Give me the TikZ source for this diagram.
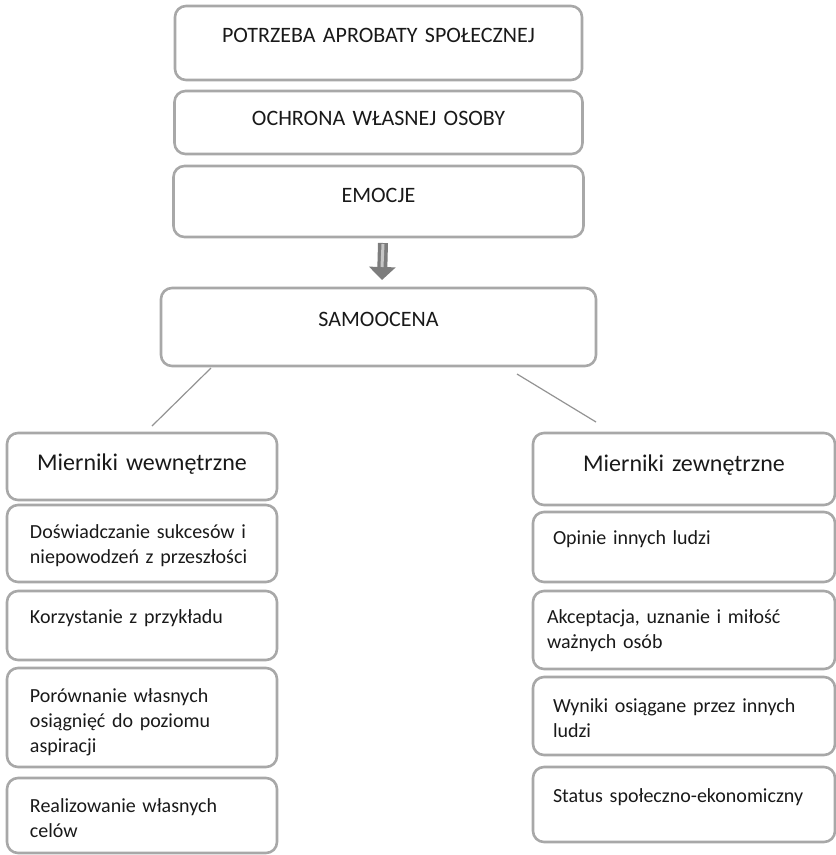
\documentclass[tikz,border=0pt]{standalone}
\usepackage{fontspec}
\setmainfont{Carlito}
\usetikzlibrary{arrows.meta,positioning}
\definecolor{boxgray}{RGB}{168,168,168}
\definecolor{txtgray}{RGB}{25,25,25}
\definecolor{arrowgray}{RGB}{125,125,125}
\tikzset{
frame/.style={draw=boxgray,line width=2.6pt,rounded corners=11pt,inner sep=0pt,outer sep=0pt,text=txtgray},
block/.style={frame,align=center,font=\fontsize{22}{27}\selectfont},
headblock/.style={block,font=\fontsize{24}{29}\selectfont},
itemblock/.style={frame,inner xsep=23pt,font=\fontsize{20}{25}\selectfont},
arrow/.style={-{Triangle[width=26pt,length=13pt]},line width=10pt,arrowgray},
link/.style={draw=gray!85,line width=1.2pt}
}
\begin{document}
\begin{tikzpicture}[x=1pt,y=-1pt]
\useasboundingbox (0,0) rectangle (836,855);
% top column
\node[block,anchor=north,text width=407pt,text height=36pt,text depth=38pt] (p1) at (378.5,6) {POTRZEBA APROBATY SPOŁECZNEJ};
\node[block,below=11pt of p1,text width=408pt,text height=34pt,text depth=29pt] (p2) {OCHRONA WŁASNEJ OSOBY};
\node[block,below=12pt of p2,text width=410pt,text height=36pt,text depth=35pt] (p3) {EMOCJE};
\node[block,below=51pt of p3,text width=435pt,text height=38pt,text depth=40pt] (samo) {SAMOOCENA};

\draw[arrow] ([xshift=4.5pt,yshift=-6pt]p3.south) -- ([xshift=3.5pt,yshift=8pt]samo.north);
\draw[line width=3pt,gray!45] ([xshift=4.5pt,yshift=-7pt]p3.south) -- ([xshift=3.5pt,yshift=21pt]samo.north);

% left column
\node[headblock,anchor=north,text width=270pt,text height=37pt,text depth=30pt] (wew) at (142,433) {Mierniki wewnętrzne};
\node[itemblock,below=5pt of wew,text width=224pt,text height=33pt,text depth=44pt] (l1) {Doświadczanie sukcesów i\\niepowodzeń z przeszłości};
\node[itemblock,below=9pt of l1,text width=224pt,text height=32pt,text depth=37pt] (l2) {Korzystanie z przykładu};
\node[itemblock,below=8pt of l2,text width=224pt,text height=34pt,text depth=65pt] (l3) {Porównanie własnych\\osiągnięć do poziomu\\aspiracji};
\node[itemblock,below=11pt of l3,text width=224pt,text height=34pt,text depth=41pt] (l4) {Realizowanie własnych\\celów};

% right column
\node[headblock,anchor=north,text width=302pt,text height=38pt,text depth=34pt] (zew) at (684,433) {Mierniki zewnętrzne};
\node[itemblock,below=7pt of zew,inner xsep=20pt,text width=262pt,text height=32pt,text depth=38pt] (r1) {Opinie innych ludzi};
\node[itemblock,below=9pt of r1,inner xsep=14pt,text width=274pt,text height=32pt,text depth=46pt] (r2) {Akceptacja, uznanie i miłość\\ważnych osób};
\node[itemblock,below=8pt of r2,inner xsep=20pt,text width=262pt,text height=35pt,text depth=43pt] (r3) {Wyniki osiągane przez innych\\ludzi};
\node[itemblock,below=12pt of r3,inner xsep=20pt,text width=262pt,text height=35pt,text depth=40pt] (r4) {Status społeczno-ekonomiczny};

\draw[link] ([xshift=50pt,yshift=-2pt]samo.south west) -- ([xshift=10pt,yshift=7pt]wew.north);
\draw[link] ([xshift=-79pt,yshift=-8pt]samo.south east) -- ([xshift=-88pt,yshift=11pt]zew.north);
\end{tikzpicture}
\end{document}
